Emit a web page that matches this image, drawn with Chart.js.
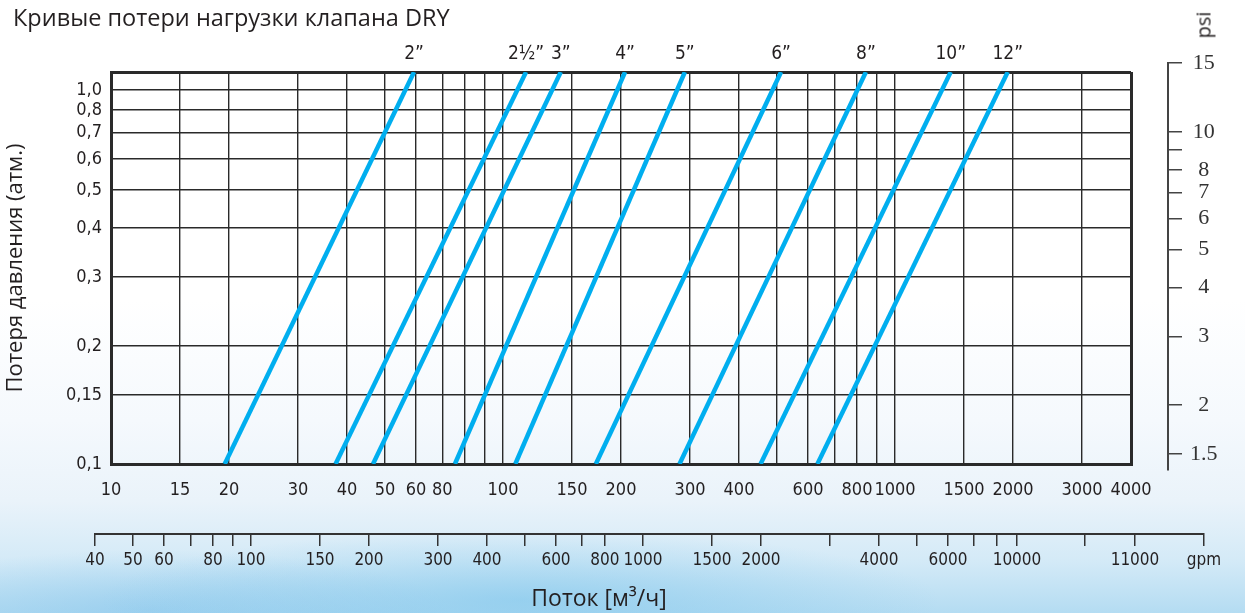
<!DOCTYPE html>
<html>
<head>
<meta charset="utf-8">
<script src="https://cdn.jsdelivr.net/npm/chart.js@4.4.1/dist/chart.umd.min.js"></script>
<style>
  html, body { margin: 0; padding: 0; }
  body {
    width: 1245px; height: 613px; position: relative; overflow: hidden;
    background:
      radial-gradient(ellipse 420px 70px at 520px 600px, rgba(120,195,235,0.55), rgba(120,195,235,0) 100%),
      radial-gradient(ellipse 300px 60px at 150px 610px, rgba(130,195,235,0.5), rgba(130,195,235,0) 100%),
      linear-gradient(to bottom, #ffffff 0px, #ffffff 300px, #f5f9fd 420px, #eaf3fa 500px, #d4eaf7 560px, #b4dcf2 613px);
  }
  #title { position: absolute; left: 13px; top: 1px; font: 23.5px 'Open Sans', sans-serif; color: #231f20; white-space: nowrap; }
  #psi { position: absolute; left: 1203px; top: 25px; transform: translate(-50%, -50%) rotate(-90deg); font: 20px 'Open Sans', sans-serif; color: #231f20; }
  canvas { position: absolute; left: 0; top: 0; }
</style>
</head>
<body>
<canvas id="chart" width="1245" height="613"></canvas>
<div id="title">Кривые потери нагрузки клапана DRY</div>
<div id="psi">psi</div>
<script>
// Размеры клапанов и расход (м³/ч) на концах прямых: при 0,1 атм и при 1,0 атм
const pipeSizes = ['2”', '2½”', '3”', '4”', '5”', '6”', '8”', '10”', '12”'];
const flowAtLow = [19.5, 37.4, 46.6, 75.4, 107.5, 172.5, 282, 454, 634];
const flowAtHigh = [59.3, 114.5, 140.4, 204.8, 291, 512, 843, 1387, 1939];
const lossLow = 0.1;
const lossHigh = 1.0;

// Шкала расхода м³/ч
const flowTicks = [10, 15, 20, 30, 40, 50, 60, 70, 80, 90, 100, 150, 200, 300, 400, 500, 600, 700, 800, 900, 1000, 1500, 2000, 3000, 4000];
const flowLabels = ['10', '15', '20', '30', '40', '50', '60', '80', '', '', '100', '150', '200', '300', '400', '', '600', '', '800', '', '1000', '1500', '2000', '3000', '4000'];

// Потеря давления, атм
const lossTicks = [0.1, 0.15, 0.2, 0.3, 0.4, 0.5, 0.6, 0.7, 0.8, 0.9, 1.0];
const lossLabels = ['0,1', '0,15', '0,2', '0,3', '0,4', '0,5', '0,6', '0,7', '0,8', '1,0', ''];

// Шкала psi
const psiTicks = [1.5, 2, 3, 4, 5, 6, 7, 8, 9, 10, 15];
const psiLabels = ['1.5', '2', '3', '4', '5', '6', '7', '8', '', '10', '15'];
const psiMin = 1.365, psiMax = 15;

// Шкала gpm
const gpmTicks = [40, 50, 60, 70, 80, 90, 100, 150, 200, 300, 400, 500, 600, 700, 800, 1000, 1500, 2000, 3000, 4000, 5000, 6000, 7000, 8000, 9000, 13400, 18000, 27000];
const gpmLabels = ['40', '50', '60', '', '80', '', '100', '150', '200', '300', '400', '', '600', '', '800', '1000', '1500', '2000', '', '4000', '', '6000', '', '', '10000', '', '11000', 'gpm'];
const gpmMin = 40, gpmMax = 27000;

const narrow = "'DejaVu Sans Condensed', 'Liberation Sans Narrow', sans-serif";
const ink = '#231f20';
const gridInk = '#2a2a2a';

const setTicks = values => scale => { scale.ticks = values.map(v => ({ value: v })); };

// доп. оси psi и gpm выходят за рамку графика
const placeExtraAxes = {
  id: 'placeExtraAxes',
  afterLayout(chart) {
    const g = chart.scales.gpm;
    g.left = 95; g.right = 1204; g.width = 1109; g.top = 534; g.bottom = 589; g.height = 55;
    g.configure();
    const p = chart.scales.psi;
    p.left = 1168; p.right = 1235; p.width = 67; p.top = 63; p.bottom = 470; p.height = 407;
    p.configure();
  }
};

new Chart(document.getElementById('chart'), {
  type: 'scatter',
  data: {
    datasets: pipeSizes.map((s, i) => ({
      label: s,
      data: [{ x: flowAtLow[i], y: lossLow }, { x: flowAtHigh[i], y: lossHigh }],
      showLine: true,
      borderColor: '#00aeef',
      borderWidth: 4.5,
      borderCapStyle: 'butt',
      pointRadius: 0,
      xAxisID: 'x',
      yAxisID: 'y'
    }))
  },
  options: {
    responsive: false,
    animation: false,
    layout: { padding: { left: 0, right: 47, top: 0, bottom: 0 } },
    plugins: {
      legend: { display: false },
      tooltip: { enabled: false },
      subtitle: {
        display: true,
        position: 'bottom',
        text: 'Поток [м³/ч]',
        color: ink,
        font: { family: "'Open Sans', sans-serif", size: 23, weight: 'normal' },
        padding: { top: 0, bottom: 0 }
      }
    },
    scales: {
      x: {
        type: 'logarithmic', axis: 'x', position: 'bottom', min: 10, max: 4000, bounds: 'data',
        afterBuildTicks: setTicks(flowTicks),
        afterFit: s => { s.height = 69; },
        ticks: {
          autoSkip: false, maxRotation: 0, minRotation: 0, padding: 16, color: ink,
          font: { family: narrow, size: 18 },
          callback: (v, i) => flowLabels[i]
        },
        grid: {
          color: gridInk, drawTicks: false,
          lineWidth: c => (c.tick && (c.tick.value === 4000 || c.tick.value === 10)) ? 3 : 1.4
        },
        border: { color: gridInk, width: 3 }
      },
      xTop: {
        type: 'logarithmic', axis: 'x', position: 'top', min: 10, max: 4000, bounds: 'data',
        afterBuildTicks: setTicks(flowAtHigh),
        afterFit: s => { s.height = 72; },
        ticks: {
          autoSkip: false, maxRotation: 0, minRotation: 0, padding: 7, color: ink,
          font: { family: narrow, size: 19 },
          callback: (v, i) => pipeSizes[i]
        },
        grid: { display: false, drawTicks: false },
        border: { display: false }
      },
      gpm: {
        type: 'logarithmic', axis: 'x', position: 'bottom', min: gpmMin, max: gpmMax, bounds: 'data',
        afterBuildTicks: setTicks(gpmTicks),
        afterFit: s => { s.height = 52.4; },
        ticks: {
          autoSkip: false, maxRotation: 0, minRotation: 0, padding: 4, color: ink,
          font: { family: narrow, size: 17 },
          callback: (v, i) => gpmLabels[i]
        },
        grid: { drawOnChartArea: false, drawTicks: true, tickLength: 12, color: '#333', lineWidth: 1.5 },
        border: { color: '#333', width: 2 }
      },
      y: {
        type: 'logarithmic', axis: 'y', position: 'left', min: 0.1, max: 1.0, bounds: 'data',
        afterBuildTicks: setTicks(lossTicks),
        afterFit: s => { s.width = 111; },
        ticks: {
          autoSkip: false, padding: 9, color: ink,
          font: { family: narrow, size: 18 },
          callback: (v, i) => lossLabels[i]
        },
        title: {
          display: true, text: 'Потеря давления (атм.)', color: ink,
          font: { family: "'Open Sans', sans-serif", size: 22, weight: 'normal' },
          padding: { top: 3, bottom: 0 }
        },
        grid: {
          color: gridInk, drawTicks: false,
          lineWidth: c => (c.tick && (c.tick.value === 1 || c.tick.value === 0.1)) ? 3 : 1.4
        },
        border: { color: gridInk, width: 3 }
      },
      psi: {
        type: 'logarithmic', axis: 'y', position: 'right', min: psiMin, max: psiMax, bounds: 'data',
        afterBuildTicks: setTicks(psiTicks),
        afterFit: s => { s.width = 67; },
        ticks: {
          autoSkip: false, padding: 8, crossAlign: 'center', color: '#333',
          font: { family: "'Liberation Serif', 'DejaVu Serif', serif", size: 22 },
          callback: (v, i) => psiLabels[i]
        },
        grid: { drawOnChartArea: false, drawTicks: true, tickLength: 14, color: '#444', lineWidth: 1.5 },
        border: { color: '#444', width: 2 }
      }
    }
  },
  plugins: [placeExtraAxes]
});
</script>
</body>
</html>
